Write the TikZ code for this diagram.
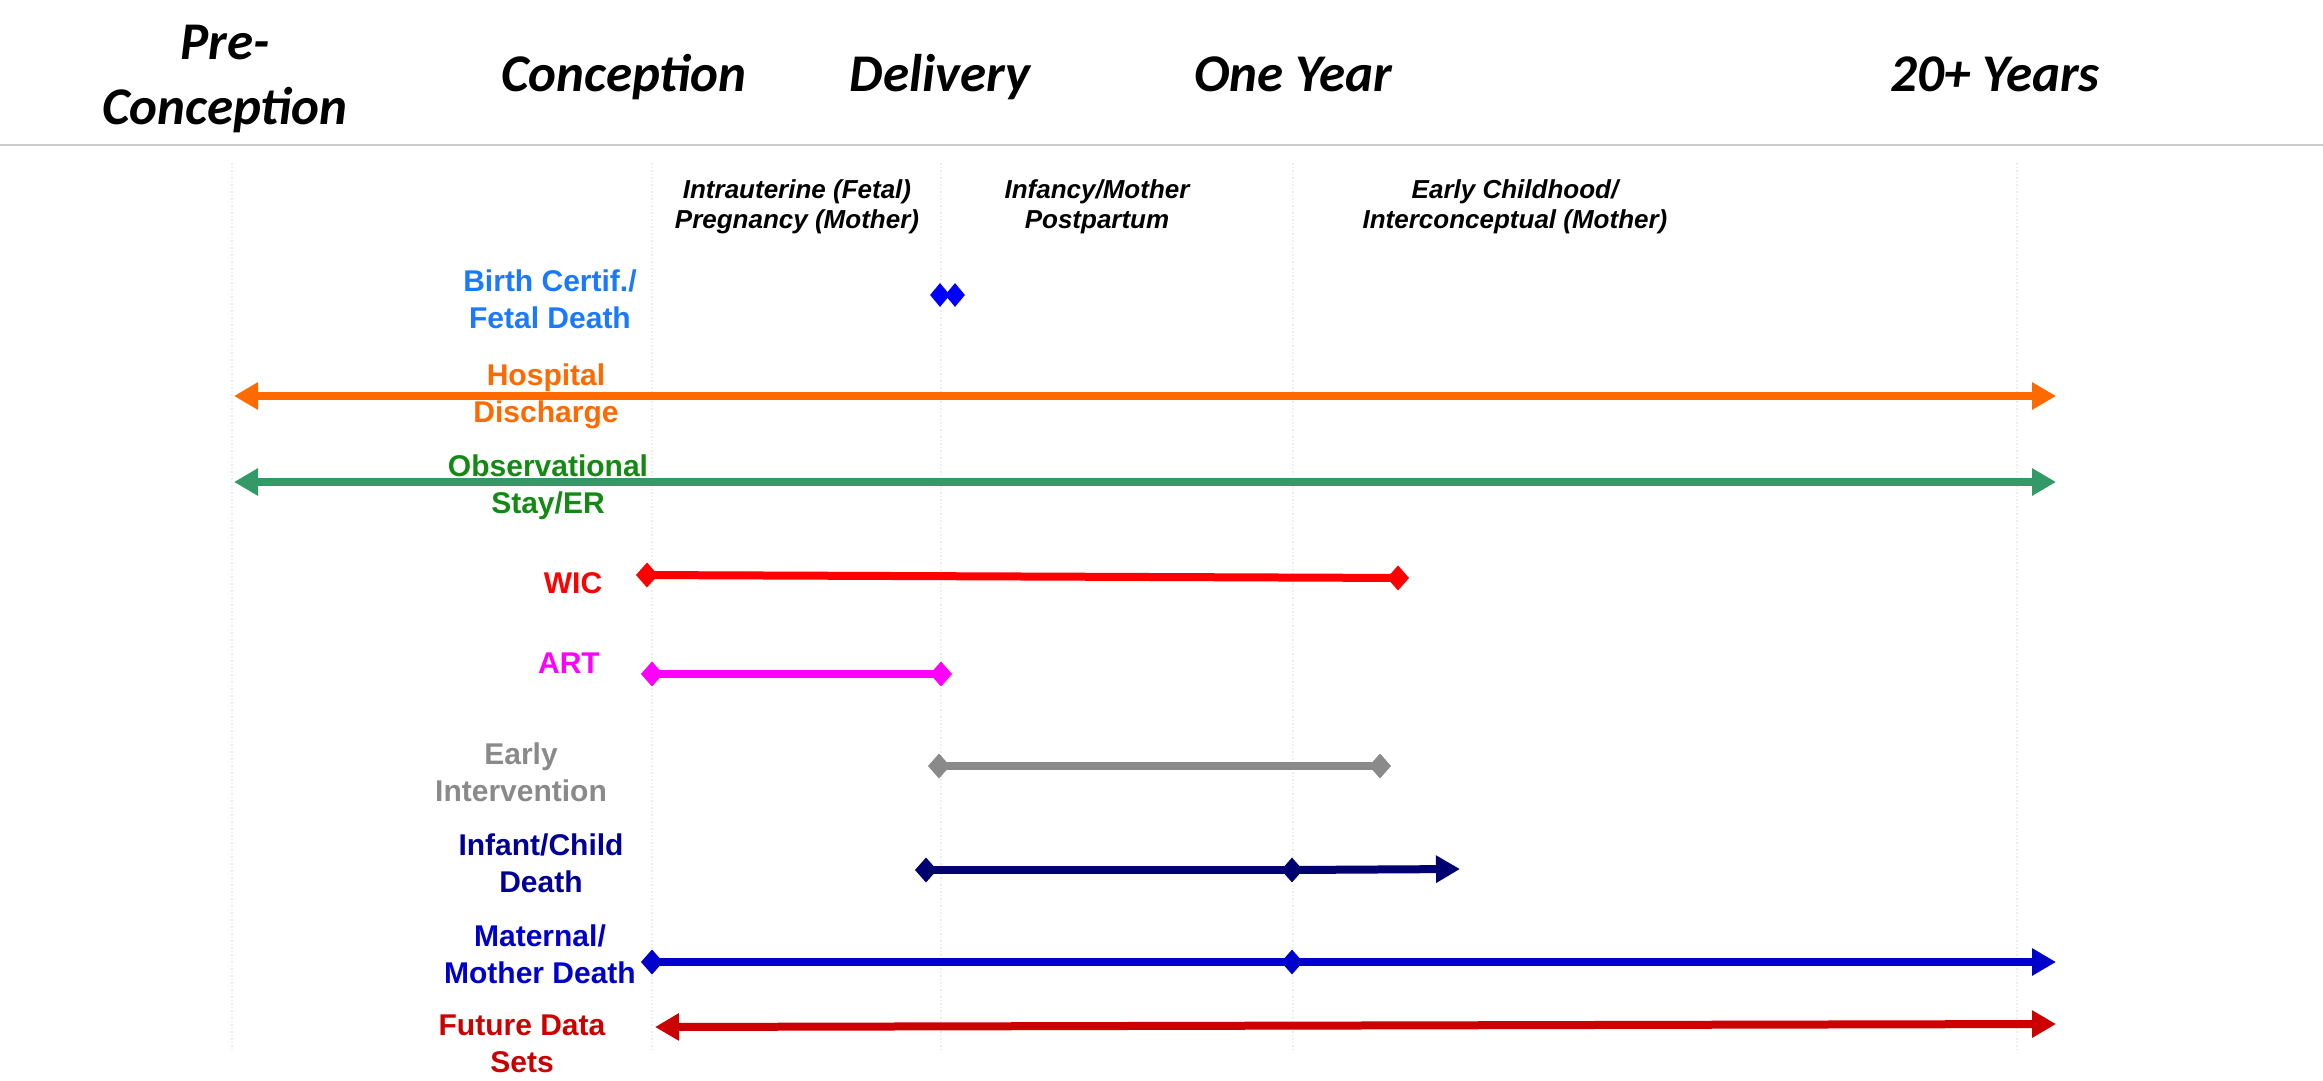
\documentclass[tikz,border=0pt]{standalone}
\usepackage{fontspec}
\setmainfont{Liberation Sans}
\newfontfamily\headfont{Carlito}
\usetikzlibrary{arrows.meta,shapes.geometric}
\definecolor{bcText}{HTML}{1A7AFF}
\definecolor{bcMark}{HTML}{0000FF}
\definecolor{hospC}{HTML}{FF6A00}
\definecolor{obsText}{HTML}{138A13}
\definecolor{obsBar}{HTML}{339966}
\definecolor{wicC}{HTML}{FF0000}
\definecolor{artC}{HTML}{FF00FF}
\definecolor{eiC}{HTML}{8A8A8A}
\definecolor{infText}{HTML}{000099}
\definecolor{infBar}{HTML}{000070}
\definecolor{matC}{HTML}{0000CC}
\definecolor{futC}{HTML}{CC0000}
\definecolor{gridC}{HTML}{EDEDED}
\definecolor{ruleC}{HTML}{CCCCCC}
\begin{document}
\begin{tikzpicture}[x=1pt,y=-1pt,
  head/.style={font=\headfont\bfseries\itshape\fontsize{53}{65}\selectfont, align=center, inner sep=0pt, text=black},
  sub/.style={font=\bfseries\itshape\fontsize{26}{30}\selectfont, align=center, inner sep=0pt, text=black},
  lab/.style={font=\bfseries\fontsize{30}{37}\selectfont, align=center, inner sep=0pt},
  bar/.style={line width=8pt},
  tri/.tip={Triangle[length=24pt,width=26pt]},
  dia/.tip={Diamond[length=22pt,width=25pt]},
  dmark/.style={diamond, aspect=0.88, fill, inner sep=0pt, minimum width=22pt, minimum height=25pt},
  gridline/.style={gridC, line width=1.5pt, dotted},
  rule/.style={ruleC, line width=2pt}]
\useasboundingbox (0,0) rectangle (2323,1081);
\fill[white] (0,0) rectangle (2323,1081);

% faint vertical guides
\foreach \gx in {232,652,941,1293,2017}
  \draw[gridline] (\gx,163) -- (\gx,1052);

% top rule
\draw[rule] (0,145) -- (2323,145);

% period headers
\node[head] (hpre) at (225,79) {Pre-\\Conception};
\node[head, anchor=base] (hcon) at (624,91) {Conception};
\node[head, anchor=base] (hdel) at (940,91) {Delivery};
\node[head, anchor=base] (hone) at (1293,91) {One Year};
\node[head, anchor=base] (htwenty) at (1995,91) {20+ Years};

% sub headers
\node[sub] (s1) at (797,207) {Intrauterine (Fetal)\\Pregnancy (Mother)};
\node[sub] (s2) at (1097,207) {Infancy/Mother\\Postpartum};
\node[sub] (s3) at (1515,207) {Early Childhood/\\Interconceptual (Mother)};

% coordinates of bar ends
\coordinate (hosL) at (234,396);  \coordinate (hosR) at (2056,396);
\coordinate (obsL) at (234,482);  \coordinate (obsR) at (2056,482);
\coordinate (wicL) at (636,575);  \coordinate (wicR) at (1409,578);
\coordinate (artL) at (641,674);  \coordinate (artR) at (952,674);
\coordinate (eiL) at (928,766);   \coordinate (eiR) at (1391,766);
\coordinate (infL) at (915,870);  \coordinate (infR) at (1460,869);
\coordinate (matL) at (641,962);  \coordinate (matR) at (2056,962);
\coordinate (futL) at (655,1027); \coordinate (futR) at (2056,1024);

% bars
\draw[bar, hospC, {tri}-{tri}] (hosL) -- (hosR);
\draw[bar, obsBar, {tri}-{tri}] (obsL) -- (obsR);
\draw[bar, wicC, {dia}-{dia}] (wicL) -- (wicR);
\draw[bar, artC, {dia}-{dia}] (artL) -- (artR);
\draw[bar, eiC, {dia}-{dia}] (eiL) -- (eiR);
\node[dmark, infBar] (infM) at (1292,870) {};
\draw[bar, infBar, {dia}-] (infL) -- (infM.center);
\draw[bar, infBar, -{tri}] (infM.center) -- (infR);
\node[dmark, matC] (matM) at (1292,962) {};
\draw[bar, matC, {dia}-] (matL) -- (matM.center);
\draw[bar, matC, -{tri}] (matM.center) -- (matR);
\draw[bar, futC, {tri}-{tri}] (futL) -- (futR);

% birth certificate marks
\node[dmark, bcMark, minimum width=20pt, minimum height=24pt] (bc1) at (940,295) {};
\node[dmark, bcMark, minimum width=20pt, minimum height=24pt] (bc2) at (955,295) {};

% labels
\node[lab, text=bcText] (lbc) at (550,299) {Birth Certif./\\Fetal Death};
\node[lab, text=hospC] (lhos) at (546,396) {Hospital\\Discharge};
\node[lab, text=obsText] (lobs) at (548,487) {Observational\\Stay/ER};
\node[lab, text=wicC, anchor=base] (lwic) at (573,593) {WIC};
\node[lab, text=artC, anchor=base] (lart) at (569,673) {ART};
\node[lab, text=eiC] (lei) at (521,772) {Early\\Intervention};
\node[lab, text=infText] (linf) at (541,863) {Infant/Child\\Death};
\node[lab, text=matC] (lmat) at (540,954) {Maternal/\\Mother Death};
\node[lab, text=futC] (lfut) at (522,1044) {Future Data\\Sets};
\end{tikzpicture}
\end{document}
